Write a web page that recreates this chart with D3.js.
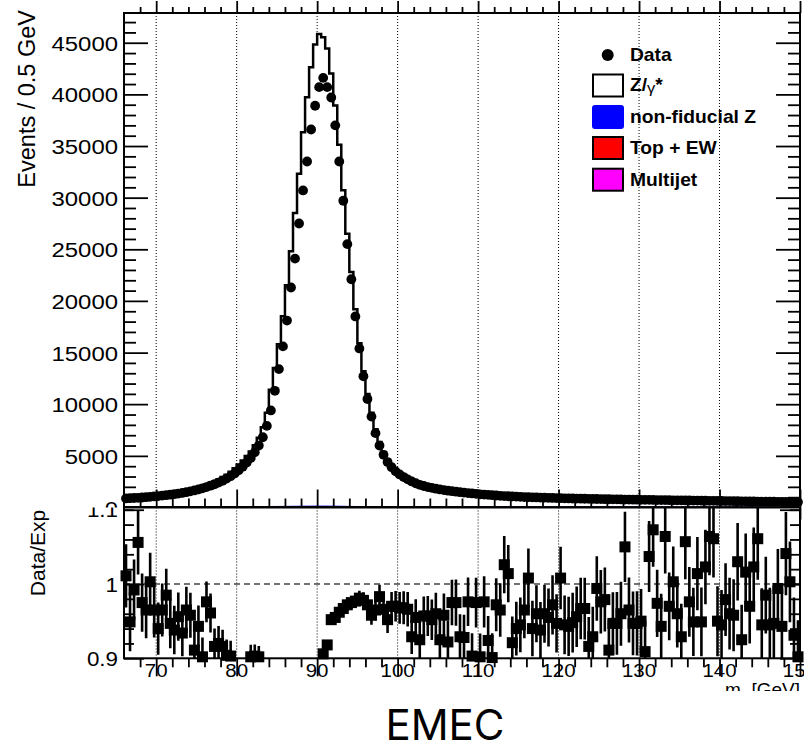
<!DOCTYPE html>
<html><head><meta charset="utf-8">
<script src="https://cdn.jsdelivr.net/npm/d3@7"></script>
<style>body{margin:0;background:#fff}svg text{font-family:"Liberation Sans",Arial,Helvetica,sans-serif}</style>
</head><body><svg id="c" width="804" height="745"></svg>
<script>
// ---- binning ----
const binLow = 66, binWidth = 0.5;
// ---- data (events / 0.5 GeV) ----
const dataCounts = [880,900,920,940,970,1000,1030,1070,1110,1150,1190,1240,1290,1350,1410,1480,1560,1650,1750,1860,1980,2110,2250,2410,2590,2800,3030,3300,3600,3950,4350,4800,5350,6000,6800,7900,9400,
11300,13400,15600,18100,21300,24100,27500,30700,33500,36600,38900,40700,41600,40700,39700,37000,33500,29700,25500,22100,18500,15400,12700,10500,
8800,7200,6000,5100,4400,3900,3500,3200,2950,2720,2520,2350,2200,2080,1980,1900,1820,1750,1690,1630,1580,1530,1480,1440,1400,1360,1320,1280,1250,1220,1190,1160,1130,1110,1090,1070,1050,1030,1010,1000,
990,975,962,950,936,925,912,900,890,880,871,863,855,846,838,830,823,815,807,800,793,786,779,772,765,759,753,747,741,735,729,723,717,711,705,699,693,687,681,676,670,664,658,652,646,641,635,629,623,617,612,606,600,594,589,583,577,572,566,560,555,549,544,538,533,527,522];
// ---- expectation ----
const mcZ = [900,930,950,970,1000,1040,1070,1110,1160,1200,1250,1300,1360,1430,1490,1570,1660,1760,1880,2010,2150,2310,2460,2650,2850,3090,3370,3710,4070,4460,4890,5330,5940,6670,7680,9080,11300,
13400,15700,18400,21400,24700,28400,32200,36200,39600,42500,44700,45700,45400,44300,41900,38800,35000,30600,26400,22700,19100,15800,13100,10900,
9100,7500,6250,5300,4580,4050,3630,3310,3050,2820,2620,2450,2290,2160,2050,1960,1880,1810,1740,1680,1620,1570,1520,1480,1440,1400,1360,1320,1290,1260,1230,1200,1170,1140,1120,1100,1080,1060,1040,1020,
1010,995,980,968,955,944,932,920,910,900,890,880,871,862,853,844,836,828,820,812,804,796,789,782,775,768,761,755,749,743,737,731,725,719,713,707,701,695,689,683,677,671,665,659,653,647,641,635,629,623,617,611,605,599,593,587,581,575,569,563,557,551,545,540,535,530,525];
const mcNonFid = [4,4,4,4,4,4,4,4,4,4,4,5,5,5,5,5,5,5,5,5,6,6,6,6,6,7,7,7,8,8,9,9,10,11,12,13,
15,17,20,23,26,30,34,38,42,45,48,50,51,50,49,46,43,39,34,29,25,21,18,15,13,
11,10,9,8,7,7,6,6,6,5,5,5,5,5,5,5,4,4,4,4,4,4,4,4,4,4,4,4,4,4,4,4,4,3,3,3,3,3,3,3,
3,3,3,3,3,3,3,3,3,3,3,3,3,3,3,3,3,3,3,3,3,3,3,3,3,3,3,3,3,3,3,3,3,3,3,3,3,3,3,3,3,3,3,3,3,3,3,3,3,3,3,3,3,3,3,3,3,3,3,3,3,3,3,3,3,3,3];
const mcTopEW = [34,34,34,34,34,34,34,34,34,34,34,34,35,35,35,35,35,35,35,35,35,35,35,35,36,36,36,36,36,36,36,36,37,37,37,37,38,
38,39,39,40,40,41,42,42,43,43,44,44,44,44,43,43,42,42,41,40,40,39,39,38,
38,37,37,37,36,36,36,36,35,35,35,35,35,35,34,34,34,34,34,34,34,33,33,33,33,33,33,33,32,32,32,32,32,32,32,31,31,31,31,31,
31,31,31,30,30,30,30,30,30,30,30,29,29,29,29,29,29,29,29,28,28,28,28,28,28,28,28,27,27,27,27,27,27,27,27,26,26,26,26,26,26,26,26,25,25,25,25,25,25,25,25,24,24,24,24,24,24,24,24,23,23,23,23,23,23,23,23];
const mcMultijet = [60,60,59,59,58,58,58,57,57,56,56,55,55,55,54,54,53,53,52,52,52,51,51,50,50,50,49,49,48,48,48,47,47,46,46,46,45,
45,45,44,44,44,43,43,43,42,42,42,41,41,41,40,40,40,39,39,39,38,38,38,37,
37,37,36,36,36,35,35,35,34,34,34,33,33,33,32,32,32,31,31,31,30,30,30,30,29,29,29,29,28,28,28,28,27,27,27,27,26,26,26,26,
25,25,25,25,24,24,24,24,24,23,23,23,23,23,22,22,22,22,22,21,21,21,21,21,20,20,20,20,20,20,19,19,19,19,19,19,18,18,18,18,18,18,18,17,17,17,17,17,17,17,16,16,16,16,16,16,16,16,15,15,15,15,15,15,15,15,15];
// ---- ratio Data/Exp (null = below the displayed range) ----
const ratioValues = [1.011,0.949,0.992,1.056,0.975,0.965,1.003,0.965,0.940,0.965,0.985,0.947,0.938,0.956,0.934,0.965,0.958,0.911,0.943,0.902,0.976,0.961,0.916,0.920,0.916,0.904,0.903,null,null,null,null,0.902,0.903,0.902,
null,null,null,null,null,null,null,null,null,null,null,null,null,null,null,
0.906,0.918,0.952,0.955,0.962,0.967,0.972,0.975,0.977,0.981,0.978,0.972,0.958,0.965,0.983,0.966,0.952,0.970,0.970,0.968,0.968,0.966,0.929,0.955,0.925,0.957,0.957,0.952,0.960,0.925,0.958,0.922,0.975,0.975,0.929,0.928,0.976,0.903,0.975,0.902,
0.976,0.924,0.901,0.972,0.965,1.026,1.014,0.921,0.940,0.945,0.965,1.008,0.940,0.960,
0.938,0.960,0.955,0.972,0.947,1.008,0.945,0.943,0.948,0.956,0.967,0.967,0.916,0.929,0.994,0.976,0.979,0.911,0.947,0.947,0.960,1.050,0.965,0.947,0.947,0.950,0.909,1.037,1.073,0.974,0.943,1.064,0.970,1.003,0.960,0.929,1.057,0.976,0.949,1.014,0.949,1.023,1.064,1.061,0.950,0.945,0.979,0.960,0.958,1.030,0.925,1.016,0.970,1.023,1.061,0.945,0.985,0.945,0.947,0.994,0.943,1.041,1.003,0.931,0.902];
// ---- axes ----
const xRange = [66,150];
const xMajorTicks = [70,80,90,100,110,120,130,140,150];
const yMainTicks = [0,5000,10000,15000,20000,25000,30000,35000,40000,45000];
const yRatioTicks = [0.9,1.0,1.1];
const gridX = [70,80,90,100,110,120,130,140];
const legendLabels = ["Data","Z/γ*","non-fiducial Z","Top + EW","Multijet"];
const legendColors = [null,"#ffffff","#0000ff","#ff0000","#ff00ff"];

// ---- layout ----
const X0=124, X1=800, MT=13, MB=507.5, RT=507.5, RB=658.3;
const svg=d3.select("#c");
const x=d3.scaleLinear().domain(xRange).range([X0,X1]);
const y=d3.scaleLinear().domain([0,47880]).range([MB,MT]);
const yr=d3.scaleLinear().domain([0.9,1.103]).range([RB,RT]);
const n=dataCounts.length;
const defs=svg.append("defs");
function clip(id,x0,y0,w,h){defs.append("clipPath").attr("id",id).append("rect").attr("x",x0).attr("y",y0).attr("width",w).attr("height",h);}
clip("cMain",X0,MT,X1-X0,MB-MT);
clip("cRatio",X0,RT,X1-X0,RB-RT);
clip("cMainLab",0,0,804,MB);
clip("cRatioLab",0,RT,804,691-RT);

function hs(sel,s){sel.attr("transform",function(){const xx=+(this.getAttribute("x")||0);return `translate(${xx*(1-s)},0) scale(${s},1)`;});}

// ---- main panel ----
const gMain=svg.append("g");
gMain.append("g").attr("clip-path","url(#cMain)").selectAll("line").data(gridX).join("line")
  .attr("x1",d=>x(d)).attr("x2",d=>x(d)).attr("y1",MT).attr("y2",MB)
  .attr("stroke","#000").attr("stroke-width",1).attr("stroke-dasharray","1,2");

const bins=d3.range(n).map(k=>({lo:binLow+k*binWidth,hi:binLow+(k+1)*binWidth,c:binLow+(k+0.5)*binWidth,k}));
const s1=mcMultijet, s2=s1.map((v,i)=>v+mcTopEW[i]), s3=s2.map((v,i)=>v+mcNonFid[i]), s4=s3.map((v,i)=>v+mcZ[i]);
function stepPts(arr){const p=bins.map(b=>[b.lo,arr[b.k]]);p.push([bins[n-1].hi,arr[n-1]]);return p;}
const area=d3.area().x(d=>x(d[0])).y0(y(0)).y1(d=>y(d[1])).curve(d3.curveStepAfter);
const line=d3.line().x(d=>x(d[0])).y(d=>y(d[1])).curve(d3.curveStepAfter);
const gStack=gMain.append("g").attr("clip-path","url(#cMain)");
[[s4,"#ffffff","#000",2.5],[s3,"#0000ff","#0000ff",1],[s2,"#ff0000","#000",1],[s1,"#ff00ff","#000",1]].forEach(([arr,fill,st,w])=>{
  gStack.append("path").attr("d",area(stepPts(arr))).attr("fill",fill);
  gStack.append("path").attr("d",line(stepPts(arr))).attr("fill","none").attr("stroke",st).attr("stroke-width",w);
});
gMain.append("g").selectAll("circle").data(bins).join("circle")
  .attr("cx",b=>x(b.c)).attr("cy",b=>y(dataCounts[b.k])).attr("r",4.9).attr("fill","#000");

// main axes
const tickStyle=g=>{g.select(".domain").remove();g.selectAll("line").attr("stroke","#000").attr("stroke-width",1.8);};
const yMinor=d3.range(0,47001,1000).filter(v=>v%5000!==0);
svg.append("g").attr("transform",`translate(${X0},0)`).call(d3.axisLeft(y).tickValues(yMinor).tickSize(-12).tickFormat("")).call(tickStyle);
svg.append("g").attr("transform",`translate(${X1},0)`).call(d3.axisRight(y).tickValues(yMinor).tickSize(-12).tickFormat("")).call(tickStyle);
svg.append("g").attr("transform",`translate(${X1},0)`).call(d3.axisRight(y).tickValues(yMainTicks).tickSize(-24).tickFormat("")).call(tickStyle);
const yAx=svg.append("g").attr("clip-path","url(#cMainLab)").append("g").attr("transform",`translate(${X0},0)`)
  .call(d3.axisLeft(y).tickValues(yMainTicks).tickSize(-24).tickPadding(6).tickFormat(d3.format("d"))).call(tickStyle);
yAx.selectAll("text").attr("font-size",21).attr("font-family","Liberation Sans, Arial, sans-serif").attr("fill","#000").attr("dy","0.36em").call(hs,1.14);
const xMinor=d3.range(68,150,2).filter(v=>v%10!==0);
[[MT,d3.axisBottom],[MB,d3.axisTop]].forEach(([yy,ax])=>{
  svg.append("g").attr("transform",`translate(0,${yy})`).call(ax(x).tickValues(xMinor).tickSize(-6).tickFormat("")).call(tickStyle);
  svg.append("g").attr("transform",`translate(0,${yy})`).call(ax(x).tickValues(xMajorTicks).tickSize(-12).tickFormat("")).call(tickStyle);
});
svg.append("rect").attr("x",X0).attr("y",MT).attr("width",X1-X0).attr("height",MB-MT).attr("fill","none").attr("stroke","#000").attr("stroke-width",2);
svg.append("text").attr("transform","translate(35,10) rotate(-90)").attr("text-anchor","end").attr("font-size",23.5).text("Events / 0.5 GeV");

// ---- ratio panel ----
const gR=svg.append("g");
gR.append("rect").attr("x",X0).attr("y",RT).attr("width",X1-X0).attr("height",RB-RT).attr("fill","#fff");
gR.append("g").attr("clip-path","url(#cRatio)").selectAll("line").data(gridX).join("line")
  .attr("x1",d=>x(d)).attr("x2",d=>x(d)).attr("y1",RT).attr("y2",RB)
  .attr("stroke","#000").attr("stroke-width",1).attr("stroke-dasharray","1,2");
gR.append("line").attr("x1",X0).attr("x2",X1).attr("y1",yr(1)).attr("y2",yr(1)).attr("stroke","#444").attr("stroke-width",1.3).attr("stroke-dasharray","6,4");
const rp=bins.filter(b=>ratioValues[b.k]!==null&&ratioValues[b.k]>=0.9&&ratioValues[b.k]<=1.103)
  .map(b=>{const r=ratioValues[b.k];const e=1.25*r/Math.sqrt(dataCounts[b.k]);return {c:b.c,r,e};});
gR.append("g").attr("clip-path","url(#cRatio)").selectAll("line").data(rp).join("line")
  .attr("x1",d=>x(d.c)).attr("x2",d=>x(d.c)).attr("y1",d=>yr(d.r-d.e)).attr("y2",d=>yr(d.r+d.e))
  .attr("stroke","#000").attr("stroke-width",2.6);
gR.append("g").selectAll("rect").data(rp).join("rect")
  .attr("x",d=>x(d.c)-5.5).attr("y",d=>yr(d.r)-5.5).attr("width",11).attr("height",11).attr("fill","#000");
const rMinor=d3.range(0.92,1.1,0.02);
svg.append("g").attr("transform",`translate(${X0},0)`).call(d3.axisLeft(yr).tickValues(rMinor).tickSize(-10).tickFormat("")).call(tickStyle);
svg.append("g").attr("transform",`translate(${X1},0)`).call(d3.axisRight(yr).tickValues(rMinor).tickSize(-10).tickFormat("")).call(tickStyle);
svg.append("g").attr("transform",`translate(${X1},0)`).call(d3.axisRight(yr).tickValues(yRatioTicks).tickSize(-20).tickFormat("")).call(tickStyle);
const yrAx=svg.append("g").attr("clip-path","url(#cRatioLab)").append("g").attr("transform",`translate(${X0},0)`)
  .call(d3.axisLeft(yr).tickValues(yRatioTicks).tickSize(-20).tickPadding(6).tickFormat(d=>d===1?"1":d3.format(".1f")(d))).call(tickStyle);
yrAx.selectAll("text").attr("font-size",20).attr("font-family","Liberation Sans, Arial, sans-serif").attr("fill","#000").attr("dy","0.36em").call(hs,1.12);
[[RT,d3.axisBottom],[RB,d3.axisTop]].forEach(([yy,ax])=>{
  svg.append("g").attr("transform",`translate(0,${yy})`).call(ax(x).tickValues(xMinor).tickSize(-9).tickFormat("")).call(tickStyle);
  svg.append("g").attr("transform",`translate(0,${yy})`).call(ax(x).tickValues(xMajorTicks).tickSize(-18).tickFormat("")).call(tickStyle);
});
svg.append("rect").attr("x",X0).attr("y",RT).attr("width",X1-X0).attr("height",RB-RT).attr("fill","none").attr("stroke","#000").attr("stroke-width",2);
const xLab=svg.append("g").selectAll("text").data(xMajorTicks).join("text")
  .attr("x",d=>x(d)).attr("y",677).attr("text-anchor","middle").attr("font-size",19).text(d=>d);
xLab.call(hs,1.08);
const xt=svg.append("g").attr("clip-path","url(#cRatioLab)").append("text").attr("x",800).attr("y",696).attr("text-anchor","end").attr("font-size",19);
xt.append("tspan").text("m");
xt.append("tspan").attr("font-size",12).attr("dy",4).text("ll");
xt.append("tspan").attr("dy",-4).text(" [GeV]");
svg.append("text").attr("transform","translate(45,553) rotate(-90)").attr("text-anchor","middle").attr("font-size",21).text("Data/Exp");

// ---- legend ----
const rowY=[55,85.5,117,148,179.7];
const lg=svg.append("g");
lg.append("circle").attr("cx",607.7).attr("cy",rowY[0]).attr("r",6).attr("fill","#000");
[1,2,3,4].forEach(i=>{
  lg.append("rect").attr("x",593).attr("y",rowY[i]-11).attr("width",30).attr("height",22).attr("rx",i===2?2:0)
    .attr("fill",legendColors[i]).attr("stroke",i===2?"#0000ff":"#000").attr("stroke-width",2);
});
legendLabels.forEach((t,i)=>{
  const tx=lg.append("text").attr("x",630).attr("y",rowY[i]+6).attr("font-size",17.5).attr("font-weight","bold");
  if(i===1){tx.append("tspan").text("Z/");tx.append("tspan").attr("font-weight","normal").attr("font-size",15).attr("dy",2).text("γ");tx.append("tspan").attr("dy",-2).text("*");}
  else tx.text(t);
  tx.call(hs,1.1);
});

// ---- title ----
svg.append("text").attr("x",445).attr("y",740).attr("text-anchor","middle").attr("style","font-family:Inter,sans-serif").attr("font-size",42).text("EMEC");
</script></body></html>
